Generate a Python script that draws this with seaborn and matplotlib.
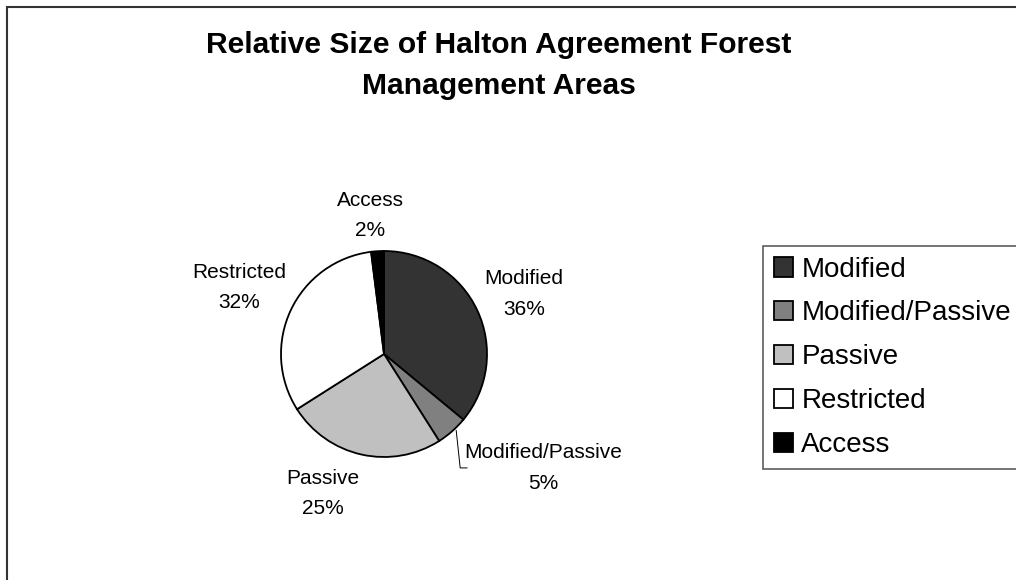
import numpy as np
import matplotlib
matplotlib.use("Agg")
import matplotlib.pyplot as plt
from matplotlib.patches import Rectangle
import seaborn as sns

# ---- data ----
categories = ["Modified", "Modified/Passive", "Passive", "Restricted", "Access"]
shares = [36, 5, 25, 32, 2]
title = "Relative Size of Halton Agreement Forest\nManagement Areas"

# ---- style ----
sns.set_theme(style="white")
plt.rcParams["font.family"] = ["Liberation Sans", "DejaVu Sans"]
plt.rcParams["text.color"] = "black"
colors = ["#333333", "#808080", "#c0c0c0", "#ffffff", "#000000"]

W, H, DPI = 1016, 580, 100
fig = plt.figure(figsize=(W / DPI, H / DPI), dpi=DPI)
fig.patch.set_facecolor("white")

# pie axes covering the whole figure, 1 data unit = R px
cx, cy, R = 384, 354, 103
ax = fig.add_axes([0, 0, 1, 1])
wedges, _ = ax.pie(shares, colors=colors, startangle=90, counterclock=False,
                   radius=1.0,
                   wedgeprops=dict(edgecolor="black", linewidth=1.3))
ax.set_aspect("auto")
ax.set_xlim(-cx / R, (W - cx) / R)
ax.set_ylim(-(H - cy) / R, cy / R)
ax.axis("off")

# label layout: (distance factor, angle nudge in degrees)
layout = {
    "Modified": (1.48, -2),
    "Modified/Passive": (1.90, 13),
    "Passive": (1.48, -11),
    "Restricted": (1.55, 0.6),
    "Access": (1.35, 2),
}
total = sum(shares)
for w, cat, val in zip(wedges, categories, shares):
    mid = 0.5 * (w.theta1 + w.theta2)
    d, nudge = layout[cat]
    a = np.deg2rad(mid + nudge)
    x, y = d * np.cos(a), d * np.sin(a)
    ax.text(x, y, f"{cat}\n{round(100 * val / total)}%", ha="center", va="center",
            fontsize=15, linespacing=1.75, color="black")
    if cat == "Modified/Passive":
        am = np.deg2rad(mid + 2)
        ex, ey = 1.02 * np.cos(am), 1.02 * np.sin(am)
        ax.plot([ex, ex + 4 / R, ex + 11 / R], [ey, y, y], color="black", lw=0.7)

# title
fig.text(499 / W, 1 - 31 / H, title, ha="center", va="top", fontsize=21.6,
         fontweight="bold", linespacing=1.6, color="black")

# legend
leg = fig.legend(wedges, categories, loc="upper left",
                 bbox_to_anchor=(763 / W, 1 - 246 / H), bbox_transform=fig.transFigure,
                 borderaxespad=0, fontsize=20, frameon=True, fancybox=False,
                 edgecolor="#333333", handlelength=0.7, handleheight=0.7,
                 handletextpad=0.3, labelspacing=0.645, borderpad=0.38)
leg.get_frame().set_linewidth(1.2)

# outer chart frame (extends past right/bottom edges)
fig.patches.append(Rectangle((7 / W, -0.1), 1.2, (H - 7) / H + 0.1,
                             transform=fig.transFigure, fill=False,
                             edgecolor="#333333", linewidth=1.5))

fig.savefig("out.png", dpi=DPI)
